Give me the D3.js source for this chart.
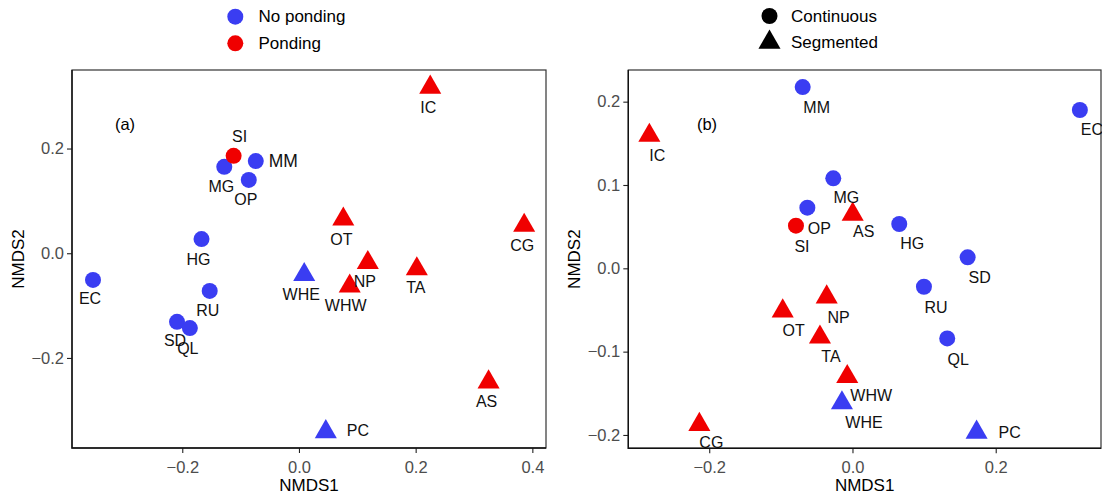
<!DOCTYPE html>
<html>
<head>
<meta charset="utf-8">
<script src="https://cdn.jsdelivr.net/npm/d3@7"></script>
<style>
  html, body { margin: 0; padding: 0; background: #fff; }
  svg { display: block; font-family: "Liberation Sans", Arial, sans-serif; }
</style>
</head>
<body>
<svg id="chart" width="1102" height="499"></svg>
<script>
// Sites and their groups
const sites      = ["EC","HG","MG","SI","MM","OP","RU","SD","QL","WHE","OT","NP","WHW","TA","IC","CG","AS","PC"];
const ponding    = ["No","No","No","Yes","No","No","No","No","No","No","Yes","Yes","Yes","Yes","Yes","Yes","Yes","No"];
const structure  = ["Continuous","Continuous","Continuous","Continuous","Continuous","Continuous","Continuous","Continuous","Continuous",
                    "Segmented","Segmented","Segmented","Segmented","Segmented","Segmented","Segmented","Segmented","Segmented"];

// Ordination (a)
const a_nmds1 = [-0.353,-0.167,-0.128,-0.112,-0.074,-0.086,-0.153,-0.209,-0.187, 0.009, 0.076, 0.118, 0.087, 0.202, 0.225, 0.386, 0.325, 0.046];
const a_nmds2 = [-0.051, 0.027, 0.165, 0.186, 0.176, 0.140,-0.072,-0.131,-0.143,-0.041, 0.065,-0.018,-0.063,-0.030, 0.317, 0.053,-0.246,-0.341];

// Ordination (b)
const b_nmds1 = [ 0.3175, 0.0653,-0.0268,-0.0789,-0.0695,-0.0630, 0.0998, 0.1608, 0.1323,-0.0147,-0.0974,-0.0360,-0.0073,-0.0454,-0.2836,-0.2138, 0.0003, 0.1733];
const b_nmds2 = [ 0.1900, 0.0532, 0.1080, 0.0512, 0.2175, 0.0728,-0.0221, 0.0132,-0.0841,-0.1615,-0.0513,-0.0345,-0.1300,-0.0826, 0.1595,-0.1875, 0.0648,-0.1968];

const a_xticks = [-0.2, 0.0, 0.2, 0.4];
const a_yticks = [-0.2, 0.0, 0.2];
const b_xticks = [-0.2, 0.0, 0.2];
const b_yticks = [-0.2, -0.1, 0.0, 0.1, 0.2];

const pondingLevels   = ["No", "Yes"];
const pondingNames    = ["No ponding", "Ponding"];
const structureLevels = ["Continuous", "Segmented"];

// Label placement (pixel nudges from each point; optional anchor and size)
const labelNudgeA = {
  EC:[-3,19], HG:[-3,20], MG:[-3,20], SI:[6,-19], MM:[13,0,"start",17.5], OP:[-3,20], RU:[-2,20], SD:[-2,19], QL:[-2,20],
  WHE:[-3,20], OT:[-2,20], NP:[-3,19], WHW:[-4,19], TA:[-1,19], IC:[-2,20], CG:[-2,20], AS:[-2,19], PC:[21,-1,"start"]
};
const labelNudgeB = {
  EC:[12,20], HG:[13,20], MG:[13,19], SI:[6,21], MM:[14,20], OP:[12,21], RU:[12,21], SD:[12,20], QL:[11,21],
  WHE:[22,20], OT:[11,19], NP:[12,20], WHW:[24,19], TA:[11,19], IC:[8,20], CG:[12,18], AS:[11,17], PC:[22,0,"start"]
};

const colour = d3.scaleOrdinal().domain(pondingLevels).range(["#3a3df2", "#f00000"]);
const fmt = d3.format(".1f");
const svg = d3.select("#chart");

// Filled triangle centred on its centroid, like a filled-triangle plotting symbol
function trianglePath(s) {
  const r = 1.5551 * s, xc = 1.3468 * s, yc = 0.7776 * s;
  return `M0,${-r}L${xc},${yc}L${-xc},${yc}Z`;
}
const triPath = trianglePath(8.2);
const circleR = 8;

function drawPanel(cfg) {
  const x = d3.scaleLinear().domain(cfg.xdom).range([cfg.left, cfg.right]);
  const y = d3.scaleLinear().domain(cfg.ydom).range([cfg.bottom, cfg.top]);
  const g = svg.append("g");

  // x axis
  const xa = g.append("g").attr("transform", `translate(0,${cfg.bottom})`)
    .call(d3.axisBottom(x).tickValues(cfg.xticks).tickFormat(fmt).tickSize(5).tickPadding(4));
  // y axis
  const ya = g.append("g").attr("transform", `translate(${cfg.left},0)`)
    .call(d3.axisLeft(y).tickValues(cfg.yticks).tickFormat(fmt).tickSize(5).tickPadding(3));
  [xa, ya].forEach(ax => {
    ax.select(".domain").remove();
    ax.selectAll(".tick line").attr("stroke", "#222").attr("stroke-width", 1.1);
    ax.selectAll(".tick text").attr("fill", "#4d4d4d").style("font-size", "16.5px")
      .style("font-family", "'Liberation Sans', Arial, sans-serif");
  });
  xa.selectAll(".tick text").attr("dy", "0.95em");

  // panel border: left/bottom axis lines darker, top/right lighter
  g.append("rect")
    .attr("x", cfg.left).attr("y", cfg.top)
    .attr("width", cfg.right - cfg.left).attr("height", cfg.bottom - cfg.top)
    .attr("fill", "none").attr("stroke", "#333").attr("stroke-width", 1.2);
  g.append("path")
    .attr("d", `M${cfg.left},${cfg.top}V${cfg.bottom}H${cfg.right}`)
    .attr("fill", "none").attr("stroke", "#111").attr("stroke-width", 1.4);

  // axis titles
  g.append("text").attr("x", (cfg.left + cfg.right) / 2).attr("y", 491)
    .attr("text-anchor", "middle").style("font-size", "17px").text("NMDS1");
  g.append("text")
    .attr("transform", `translate(${cfg.ytitleX},${(cfg.top + cfg.bottom) / 2}) rotate(-90)`)
    .attr("text-anchor", "middle").style("font-size", "17px").text("NMDS2");

  // panel tag
  g.append("text").attr("x", cfg.tagX).attr("y", cfg.tagY)
    .attr("text-anchor", "middle").attr("dominant-baseline", "central")
    .style("font-size", "16.5px").text(cfg.tag);

  const rows = sites.map((s, i) => ({
    site: s, pond: ponding[i], shape: structure[i], x: cfg.xs[i], y: cfg.ys[i]
  }));

  // points
  const pts = g.append("g");
  rows.forEach(d => {
    const px = x(d.x), py = y(d.y);
    if (d.shape === "Continuous") {
      pts.append("circle").attr("cx", px).attr("cy", py).attr("r", circleR).attr("fill", colour(d.pond));
    } else {
      pts.append("path").attr("d", triPath).attr("transform", `translate(${px},${py})`).attr("fill", colour(d.pond));
    }
  });

  // site labels
  const labs = g.append("g");
  rows.forEach(d => {
    const n = cfg.nudge[d.site];
    labs.append("text")
      .attr("x", x(d.x) + n[0]).attr("y", y(d.y) + n[1])
      .attr("text-anchor", n[2] || "middle").attr("dominant-baseline", "central")
      .style("font-size", (n[3] || 16) + "px").attr("fill", "#111").text(d.site);
  });
}

drawPanel({
  left: 72, right: 546, top: 70, bottom: 448,
  xdom: [-0.389, 0.4234], ydom: [-0.372, 0.350],
  xticks: a_xticks, yticks: a_yticks, xs: a_nmds1, ys: a_nmds2,
  nudge: labelNudgeA, tag: "(a)", tagX: 125, tagY: 124, ytitleX: 24
});
drawPanel({
  left: 628.3, right: 1101, top: 70, bottom: 448.3,
  xdom: [-0.313, 0.347], ydom: [-0.216, 0.238],
  xticks: b_xticks, yticks: b_yticks, xs: b_nmds1, ys: b_nmds2,
  nudge: labelNudgeB, tag: "(b)", tagX: 707, tagY: 124, ytitleX: 580
});

// legend: ponding (colour)
const lg1 = svg.append("g");
pondingLevels.forEach((p, i) => {
  const cy = 16.7 + i * 26.6;
  lg1.append("circle").attr("cx", 235.3).attr("cy", cy).attr("r", circleR).attr("fill", colour(p));
  lg1.append("text").attr("x", 258.5).attr("y", cy).attr("dominant-baseline", "central")
    .style("font-size", "17px").text(pondingNames[i]);
});

// legend: structure (shape)
const lg2 = svg.append("g");
structureLevels.forEach((s, i) => {
  const cy = 16 + i * 26.3;
  if (s === "Continuous") {
    lg2.append("circle").attr("cx", 769.5).attr("cy", cy).attr("r", circleR).attr("fill", "#000");
  } else {
    lg2.append("path").attr("d", triPath).attr("transform", `translate(769.5,${cy})`).attr("fill", "#000");
  }
  lg2.append("text").attr("x", 791).attr("y", cy).attr("dominant-baseline", "central")
    .style("font-size", "17px").text(s);
});
</script>
</body>
</html>
